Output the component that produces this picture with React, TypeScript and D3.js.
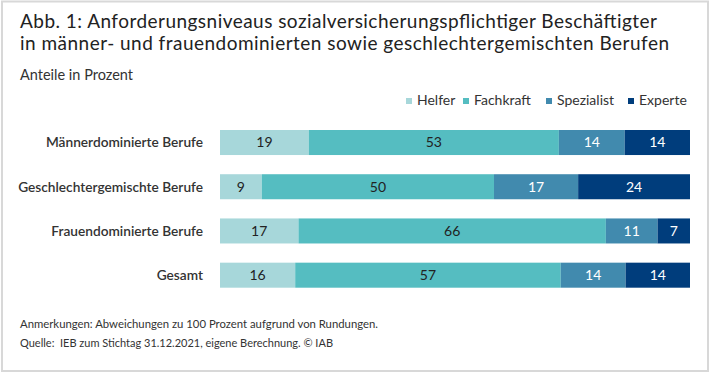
import React, { useLayoutEffect } from "react";
import * as d3 from "d3";

// Berufsgruppen (Zeilen)
const categories = [
  "Männerdominierte Berufe",
  "Geschlechtergemischte Berufe",
  "Frauendominierte Berufe",
  "Gesamt",
];

// Anforderungsniveaus (Stapel)
const levels = ["Helfer", "Fachkraft", "Spezialist", "Experte"];

// Anteile in Prozent, geschätzt aus den Balkenlängen
const helfer = [18.9, 8.9, 16.7, 16.0];
const fachkraft = [53.2, 49.4, 65.4, 56.5];
const spezialist = [14.0, 17.9, 11.0, 13.8];
const experte = [13.9, 23.8, 6.9, 13.7];

// gedruckte Beschriftungen
const helferLabels = [19, 9, 17, 16];
const fachkraftLabels = [53, 50, 66, 57];
const spezialistLabels = [14, 17, 11, 14];
const experteLabels = [14, 24, 7, 14];

const series = [helfer, fachkraft, spezialist, experte];
const seriesLabels = [helferLabels, fachkraftLabels, spezialistLabels, experteLabels];

const colors = ["#a7d7da", "#55bdc1", "#418aae", "#003d7c"];
const textColors = ["#222", "#222", "#fff", "#fff"];

const FONT = "'Source Sans Pro', Lato, 'Open Sans', sans-serif";

export default function App() {
  useLayoutEffect(() => {
    document.body.style.margin = "0";
  }, []);

  const width = 710;
  const height = 374;

  const x = d3.scaleLinear().domain([0, 100]).range([220, 690]);
  const y = d3
    .scaleBand<string>()
    .domain(categories)
    .range([130, 287.7])
    .paddingInner(0.434)
    .paddingOuter(0);

  const table = categories.map((c, i) => {
    const row: Record<string, number | string> = { category: c };
    levels.forEach((l, j) => (row[l] = series[j][i]));
    return row;
  });
  const stacked = d3.stack<Record<string, number | string>>().keys(levels)(table);

  const legendX = [406, 463, 546, 628];

  return (
    <svg width={width} height={height} style={{ display: "block", fontFamily: FONT }}>
      <rect x={0} y={0} width={width} height={height} fill="#fff" />
      <rect x={2} y={1.5} width={706} height={369.5} fill="none" stroke="#d8d8d8" strokeWidth={2} />

      <text x={20} y={28} fontSize={19} fill="#222" textLength={637} lengthAdjust="spacing">
        Abb. 1: Anforderungsniveaus sozialversicherungspflichtiger Beschäftigter
      </text>
      <text x={20} y={50} fontSize={19} fill="#222" textLength={649} lengthAdjust="spacing">
        in männer- und frauendominierten sowie geschlechtergemischten Berufen
      </text>
      <text x={20} y={80} fontSize={14.5} fill="#333">
        Anteile in Prozent
      </text>

      {levels.map((l, i) => (
        <g key={l}>
          <rect x={legendX[i]} y={98} width={6} height={6} fill={colors[i]} />
          <text x={legendX[i] + 11} y={105} fontSize={14} fill="#333">
            {l}
          </text>
        </g>
      ))}

      {categories.map((c) => (
        <text
          key={c}
          x={203}
          y={(y(c) ?? 0) + y.bandwidth() / 2}
          dy="0.35em"
          textAnchor="end"
          fontSize={13.7}
          fontWeight={600}
          fill="#333"
        >
          {c}
        </text>
      ))}

      {stacked.map((s, j) => (
        <g key={s.key}>
          {s.map((d, i) => {
            const cat = categories[i];
            const x0 = x(d[0]);
            const x1 = x(d[1]);
            return (
              <g key={cat}>
                <rect x={x0} y={y(cat)} width={x1 - x0} height={y.bandwidth()} fill={colors[j]} />
                <text
                  x={(x0 + x1) / 2}
                  y={(y(cat) ?? 0) + y.bandwidth() / 2}
                  dy="0.35em"
                  textAnchor="middle"
                  fontSize={14}
                  fill={textColors[j]}
                >
                  {seriesLabels[j][i]}
                </text>
              </g>
            );
          })}
        </g>
      ))}

      <text x={20} y={328} fontSize={11.8} fill="#333" textLength={358} lengthAdjust="spacingAndGlyphs">
        Anmerkungen: Abweichungen zu 100 Prozent aufgrund von Rundungen.
      </text>
      <text x={20} y={347} fontSize={11.8} fill="#333" textLength={313} lengthAdjust="spacingAndGlyphs">
        Quelle:{"\u00a0\u00a0"}IEB zum Stichtag 31.12.2021, eigene Berechnung. © IAB
      </text>
    </svg>
  );
}
